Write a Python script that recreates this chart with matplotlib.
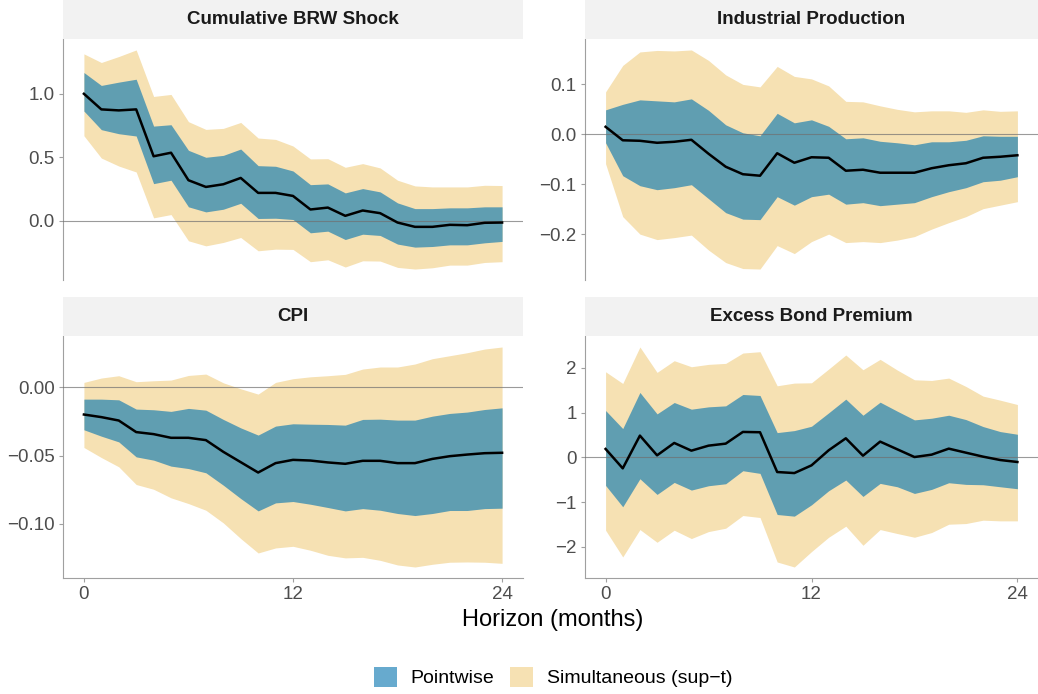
import matplotlib
matplotlib.use("Agg")
import matplotlib.pyplot as plt
from matplotlib.patches import Patch, Rectangle
import numpy as np

plt.rcParams["font.family"] = ["Liberation Sans", "DejaVu Sans"]

horizon = np.arange(25)

# Cumulative BRW Shock
brw_mid = [1.0, 0.877, 0.869, 0.877, 0.507, 0.535, 0.318, 0.265, 0.286, 0.336, 0.218, 0.218, 0.194,
           0.087, 0.102, 0.037, 0.079, 0.058, -0.016, -0.05, -0.05, -0.034, -0.037, -0.018, -0.016]
brw_pw_hi = [1.168, 1.066, 1.092, 1.115, 0.745, 0.756, 0.554, 0.499, 0.514, 0.564, 0.433, 0.428, 0.391,
             0.283, 0.289, 0.218, 0.252, 0.226, 0.139, 0.094, 0.094, 0.1, 0.1, 0.108, 0.108]
brw_pw_lo = [0.864, 0.717, 0.685, 0.667, 0.291, 0.318, 0.108, 0.068, 0.089, 0.136, 0.016, 0.018, 0.008,
             -0.097, -0.084, -0.15, -0.108, -0.118, -0.186, -0.21, -0.205, -0.192, -0.192, -0.176, -0.165]
brw_st_hi = [1.315, 1.247, 1.294, 1.346, 0.979, 0.995, 0.78, 0.719, 0.727, 0.774, 0.651, 0.64, 0.588,
             0.486, 0.488, 0.42, 0.449, 0.415, 0.318, 0.273, 0.265, 0.265, 0.265, 0.278, 0.276]
brw_st_lo = [0.669, 0.493, 0.43, 0.383, 0.021, 0.047, -0.16, -0.2, -0.173, -0.134, -0.239, -0.226, -0.228,
             -0.325, -0.31, -0.367, -0.318, -0.32, -0.37, -0.383, -0.373, -0.352, -0.352, -0.331, -0.325]

# Industrial Production
ip_mid = [0.015, -0.012, -0.013, -0.017, -0.015, -0.011, -0.039, -0.065, -0.08, -0.083, -0.038, -0.057, -0.046,
          -0.047, -0.073, -0.071, -0.077, -0.077, -0.077, -0.068, -0.062, -0.058, -0.047, -0.045, -0.042]
ip_pw_hi = [0.049, 0.06, 0.069, 0.067, 0.065, 0.071, 0.048, 0.019, 0.003, -0.003, 0.042, 0.023, 0.029,
            0.016, -0.009, -0.007, -0.014, -0.017, -0.021, -0.015, -0.015, -0.012, -0.003, -0.004, -0.004]
ip_pw_lo = [-0.017, -0.083, -0.103, -0.111, -0.107, -0.101, -0.129, -0.157, -0.17, -0.171, -0.125, -0.142, -0.125,
            -0.12, -0.14, -0.137, -0.143, -0.14, -0.137, -0.125, -0.115, -0.107, -0.095, -0.092, -0.085]
ip_st_hi = [0.085, 0.138, 0.165, 0.168, 0.167, 0.169, 0.148, 0.119, 0.1, 0.095, 0.136, 0.116, 0.111,
            0.097, 0.066, 0.065, 0.057, 0.05, 0.045, 0.047, 0.047, 0.044, 0.049, 0.046, 0.047]
ip_st_lo = [-0.059, -0.165, -0.2, -0.211, -0.207, -0.202, -0.232, -0.257, -0.269, -0.27, -0.223, -0.239, -0.215,
            -0.2, -0.217, -0.215, -0.217, -0.212, -0.205, -0.19, -0.177, -0.165, -0.149, -0.142, -0.135]

# CPI
cpi_mid = [-0.0199, -0.0218, -0.0243, -0.0328, -0.0343, -0.037, -0.037, -0.0387, -0.0473, -0.0549, -0.0625,
           -0.0556, -0.0532, -0.0537, -0.0551, -0.0561, -0.0539, -0.0539, -0.0556, -0.0556, -0.0525, -0.0505,
           -0.0493, -0.0483, -0.048]
cpi_pw_hi = [-0.0086, -0.0086, -0.0091, -0.0159, -0.0164, -0.0176, -0.0154, -0.0167, -0.0235, -0.0297, -0.035,
             -0.0284, -0.0267, -0.027, -0.0272, -0.0277, -0.0235, -0.0233, -0.024, -0.024, -0.0211, -0.0191,
             -0.0181, -0.0162, -0.015]
cpi_pw_lo = [-0.0311, -0.0358, -0.04, -0.051, -0.0534, -0.0578, -0.0596, -0.0627, -0.0718, -0.0816, -0.0907,
             -0.0848, -0.0838, -0.0858, -0.0882, -0.0907, -0.089, -0.0902, -0.0926, -0.0941, -0.0926, -0.0904,
             -0.0904, -0.089, -0.0887]
cpi_st_hi = [0.0037, 0.0069, 0.0086, 0.0042, 0.0049, 0.0054, 0.0088, 0.0098, 0.0034, -0.001, -0.0049,
             0.0037, 0.0064, 0.0078, 0.0086, 0.0096, 0.0135, 0.015, 0.015, 0.0172, 0.0211, 0.0233,
             0.0255, 0.0282, 0.0297]
cpi_st_lo = [-0.0441, -0.0515, -0.0583, -0.0713, -0.0748, -0.0811, -0.0853, -0.0902, -0.0995, -0.111, -0.1216,
             -0.1179, -0.1167, -0.1196, -0.1233, -0.1252, -0.1248, -0.127, -0.1304, -0.1319, -0.1299, -0.1284,
             -0.1282, -0.1284, -0.1292]

# Excess Bond Premium
ebp_mid = [0.187, -0.246, 0.485, 0.045, 0.321, 0.149, 0.261, 0.306, 0.567, 0.56, -0.328, -0.351, -0.179,
           0.157, 0.425, 0.037, 0.351, 0.179, 0.007, 0.06, 0.194, 0.104, 0.015, -0.06, -0.104]
ebp_pw_hi = [1.045, 0.642, 1.448, 0.97, 1.224, 1.075, 1.127, 1.149, 1.403, 1.381, 0.552, 0.597, 0.694,
             0.993, 1.299, 0.94, 1.231, 1.03, 0.836, 0.873, 0.94, 0.843, 0.687, 0.575, 0.515]
ebp_pw_lo = [-0.627, -1.104, -0.478, -0.828, -0.56, -0.731, -0.634, -0.59, -0.299, -0.358, -1.276, -1.313, -1.06,
             -0.746, -0.507, -0.873, -0.582, -0.657, -0.806, -0.716, -0.567, -0.604, -0.612, -0.657, -0.701]
ebp_st_hi = [1.91, 1.649, 2.463, 1.896, 2.157, 2.022, 2.075, 2.097, 2.328, 2.358, 1.597, 1.657, 1.664,
             1.97, 2.284, 1.955, 2.187, 1.948, 1.731, 1.716, 1.769, 1.582, 1.366, 1.276, 1.179]
ebp_st_lo = [-1.627, -2.224, -1.612, -1.896, -1.627, -1.813, -1.657, -1.582, -1.299, -1.343, -2.336, -2.448, -2.104,
             -1.784, -1.537, -1.963, -1.612, -1.701, -1.784, -1.679, -1.493, -1.478, -1.403, -1.418, -1.418]

titles = ["Cumulative BRW Shock", "Industrial Production", "CPI", "Excess Bond Premium"]
yticks = [[0.0, 0.5, 1.0], [-0.2, -0.1, 0.0, 0.1], [-0.10, -0.05, 0.00], [-2, -1, 0, 1, 2]]
yfmt = ["{:.1f}", "{:.1f}", "{:.2f}", "{:.0f}"]
xticks = [0, 12, 24]

panels = [
    (brw_mid, brw_pw_lo, brw_pw_hi, brw_st_lo, brw_st_hi),
    (ip_mid, ip_pw_lo, ip_pw_hi, ip_st_lo, ip_st_hi),
    (cpi_mid, cpi_pw_lo, cpi_pw_hi, cpi_st_lo, cpi_st_hi),
    (ebp_mid, ebp_pw_lo, ebp_pw_hi, ebp_st_lo, ebp_st_hi),
]

teal = "#609EB1"
wheat = "#F6E1B3"
legend_blue = "#67AACE"
axis_grey = "#A0A0A0"
text_grey = "#4D4D4D"

W, H = 1038, 694
fig = plt.figure(figsize=(W / 100, H / 100), dpi=100)

# pixel boxes: (left, right) and (strip_top, plot_top, plot_bottom)
cols = [(63, 523), (585, 1038)]
rows = [(0, 39, 280), (297, 336, 578)]

for i, (mid, pw_lo, pw_hi, st_lo, st_hi) in enumerate(panels):
    r, c = divmod(i, 2)
    x0, x1 = cols[c]
    s0, p0, p1 = rows[r]
    ax = fig.add_axes([x0 / W, 1 - p1 / H, (x1 - x0) / W, (p1 - p0) / H])
    ax.fill_between(horizon, st_lo, st_hi, color=wheat, linewidth=0, zorder=1)
    ax.fill_between(horizon, pw_lo, pw_hi, color=teal, linewidth=0, zorder=2)
    ax.axhline(0, color="#707070", linewidth=0.8, alpha=0.7, zorder=3)
    ax.plot(horizon, mid, color="black", linewidth=1.8, zorder=4)
    ax.margins(x=0.05, y=0.05)

    ax.set_yticks(yticks[i])
    ax.set_yticklabels([yfmt[i].format(v).replace("-", "\u2212") for v in yticks[i]])
    ax.set_xticks(xticks)
    for s in ["top", "right"]:
        ax.spines[s].set_visible(False)
    ax.spines["left"].set_color(axis_grey)
    ax.spines["bottom"].set_color(axis_grey)
    if r == 0:
        ax.spines["bottom"].set_visible(False)
        ax.tick_params(axis="x", bottom=False, labelbottom=False)
    ax.tick_params(axis="both", colors=axis_grey, labelcolor=text_grey, labelsize=13.5,
                   length=3, width=0.8, pad=3)

    # facet strip
    sax = fig.add_axes([x0 / W, 1 - p0 / H, (x1 - x0) / W, (p0 - s0) / H])
    sax.add_patch(Rectangle((0, 0), 1, 1, facecolor="#F2F2F2", edgecolor="none", transform=sax.transAxes))
    sax.set_axis_off()
    sax.text(0.5, 0.5, titles[i], ha="center", va="center", fontsize=13.5, fontweight="bold",
             color="#1A1A1A", transform=sax.transAxes)

fig.text(553 / W, 1 - 620 / H, "Horizon (months)", ha="center", va="center", fontsize=17, color="black")

handles = [Patch(facecolor=legend_blue, edgecolor="none", label="Pointwise"),
           Patch(facecolor=wheat, edgecolor="none", label="Simultaneous (sup\u2212t)")]
fig.legend(handles=handles, loc="center", bbox_to_anchor=(553 / W, 1 - 677 / H), ncol=2, frameon=False,
           fontsize=14, handlelength=1.2, handleheight=1.2, columnspacing=0.8, handletextpad=0.7)

fig.savefig("out.png", dpi=100)
